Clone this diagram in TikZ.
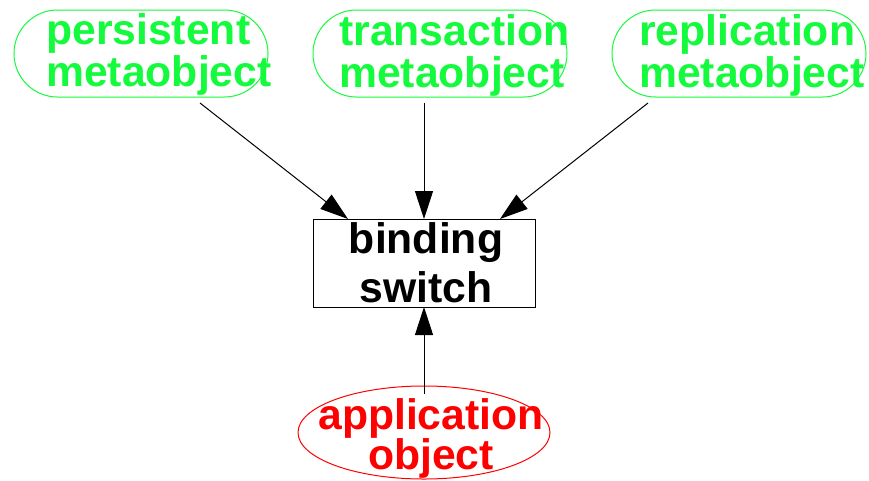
\documentclass[tikz,border=0pt]{standalone}
\usepackage{fontspec}
\setmainfont{Liberation Sans}
\usetikzlibrary{arrows.meta,shapes.misc,shapes.geometric}
\definecolor{metagreen}{RGB}{20,250,60}
\definecolor{appred}{RGB}{255,0,0}
\begin{document}
\begin{tikzpicture}[x=1pt,y=-1pt,
  meta/.style={draw=metagreen, rounded rectangle, minimum width=254pt,
    minimum height=87pt, inner sep=0pt, line width=1pt},
  metatext/.style={text=metagreen, font=\fontsize{42.7}{42}\selectfont\bfseries,
    align=left, inner sep=0pt, anchor=base west},
  switchbox/.style={draw=black, rectangle, minimum width=222pt,
    minimum height=88pt, inner sep=0pt, line width=1pt},
  switchtext/.style={text=black, font=\fontsize{42.7}{49}\selectfont\bfseries,
    align=center, inner sep=0pt, anchor=base},
  appshape/.style={draw=appred, ellipse, minimum width=252pt,
    minimum height=93pt, inner sep=0pt, line width=1pt},
  apptext/.style={text=appred, font=\fontsize{42.7}{40}\selectfont\bfseries,
    align=center, inner sep=0pt, anchor=base},
  link/.style={draw=black, line width=1pt,
    -{Triangle[length=28pt,width=18pt]}}
]
\useasboundingbox (0,0) rectangle (869,480);

% metaobjects (label anchors sit on the baseline of the last line)
\node[meta] (persistent) at (141,53.5) {};
\node[metatext] (persistentlabel) at (46,86) {persistent\\metaobject};
\node[meta] (transaction) at (440,53.5) {};
\node[metatext] (transactionlabel) at (339,87) {transaction\\metaobject};
\node[meta] (replication) at (739,53.5) {};
\node[metatext] (replicationlabel) at (639,87) {replication\\metaobject};

% binding switch
\node[switchbox] (switch) at (424,263) {};
\node[switchtext] (switchlabel) at (426,302) {binding\\switch};

% application object
\node[appshape] (app) at (424,432.5) {};
\node[apptext] (applabel) at (431,469) {application\\object};

% connector end points
\coordinate (persistentout) at (200,103);
\coordinate (transactionout) at (424,103);
\coordinate (replicationout) at (648,103);
\coordinate (appout) at (424,394);
\coordinate (switchinleft) at (348,219);
\coordinate (switchinmid) at (424,219);
\coordinate (switchinright) at (500,219);
\coordinate (switchinbottom) at (424,307);

\draw[link] (persistentout) -- (switchinleft);
\draw[link] (transactionout) -- (switchinmid);
\draw[link] (replicationout) -- (switchinright);
\draw[link] (appout) -- (switchinbottom);
\end{tikzpicture}
\end{document}
